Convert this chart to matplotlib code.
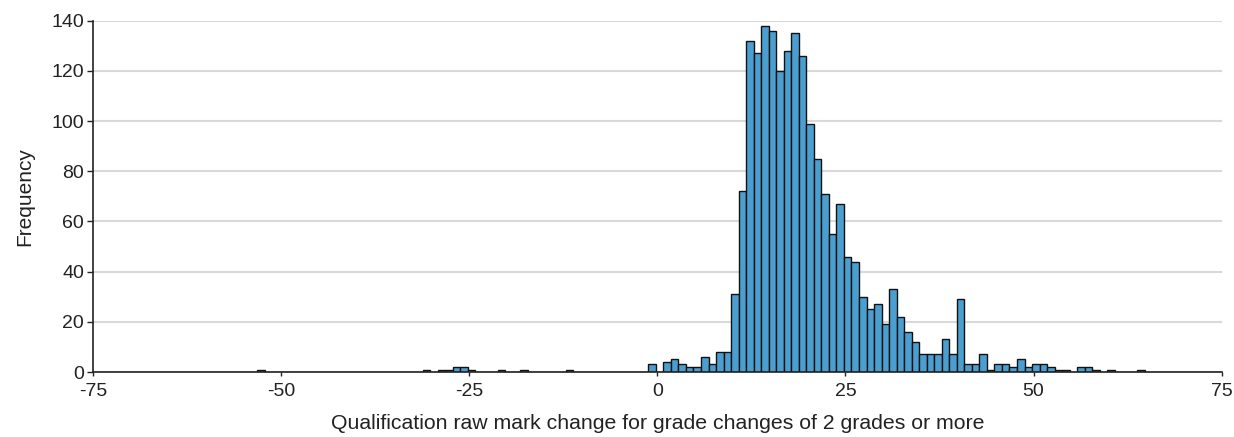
import matplotlib.pyplot as plt

# Dados: variação de nota bruta (valor) e frequência
valores = [-53, -31, -29, -28, -27, -26, -25, -21, -18, -12, -1,
           1, 2, 3, 4, 5, 6, 7, 8, 9, 10, 11, 12, 13, 14, 15, 16, 17, 18, 19,
           20, 21, 22, 23, 24, 25, 26, 27, 28, 29, 30, 31, 32, 33, 34, 35,
           36, 37, 38, 39, 40, 41, 42, 43, 44, 45, 46, 47, 48, 49, 50, 51,
           52, 53, 54, 56, 57, 58, 60, 64]
frequencia = [1, 1, 1, 1, 2, 2, 1, 1, 1, 1, 3,
              4, 5, 3, 2, 2, 6, 3, 8, 8, 31, 72, 132, 127, 138, 136, 120, 128, 135, 126,
              99, 85, 71, 55, 67, 46, 44, 30, 25, 27, 19, 33, 22, 16, 12, 7,
              7, 7, 13, 7, 29, 3, 3, 7, 1, 3, 3, 2, 5, 2, 3, 3,
              2, 1, 1, 2, 2, 1, 1, 1]
x_ticks = [-75, -50, -25, 0, 25, 50, 75]
y_ticks = [0, 20, 40, 60, 80, 100, 120, 140]

plt.rcParams['font.family'] = ['Liberation Sans', 'DejaVu Sans']
plt.rcParams['axes.unicode_minus'] = False
texto = '#222222'

fig = plt.figure(figsize=(12.34, 4.37), dpi=100)
ax = fig.add_axes([0.0754, 0.1487, 0.9146, 0.8039])

ax.bar([v - 0.2 for v in valores], frequencia, width=1, align='edge',
       color='#4a9fd0', edgecolor='#111111', linewidth=1, zorder=3)

ax.set_xlim(-75, 75)
ax.set_ylim(0, 140)
ax.set_xticks(x_ticks)
ax.set_yticks(y_ticks)

ax.grid(axis='y', color='#d9d9d9', linewidth=1.5, zorder=0)
ax.grid(axis='x', color='white', linewidth=2, zorder=1)
ax.set_axisbelow(True)

for lado in ['top', 'right']:
    ax.spines[lado].set_visible(False)
for lado in ['left', 'bottom']:
    ax.spines[lado].set_color('#222222')
    ax.spines[lado].set_linewidth(1.2)
    ax.spines[lado].set_zorder(4)

ax.tick_params(axis='y', length=4.5, width=1, colors='#222222', labelsize=14, labelcolor=texto, pad=2)
ax.tick_params(axis='x', length=3, width=1, colors='#222222', labelsize=14, labelcolor=texto, pad=5)

ax.set_xlabel('Qualification raw mark change for grade changes of 2 grades or more',
              fontsize=15.3, color=texto, labelpad=10)
ax.set_ylabel('Frequency', fontsize=15, color=texto, labelpad=12)

fig.savefig('out.png', dpi=100)
